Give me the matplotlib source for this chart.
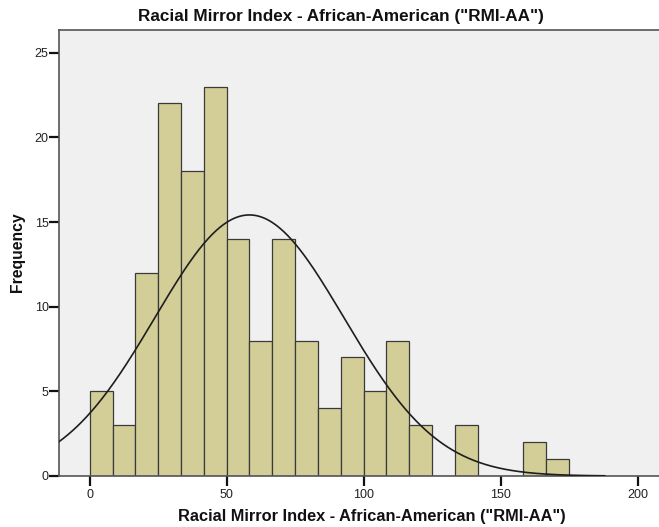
import numpy as np
import matplotlib
matplotlib.use("Agg")
import matplotlib.pyplot as plt

plt.rcParams['font.family'] = ['Liberation Sans', 'DejaVu Sans']

# Histogram of RMI-AA scores: bin edges (width 25/3) and counts per bin
bin_width = 25 / 3
n_bins = 21
bin_edges = [i * bin_width for i in range(n_bins + 1)]
counts = [5, 3, 12, 22, 18, 23, 14, 8, 14, 8, 4, 7, 5, 8, 3, 0, 3, 0, 0, 2, 1]

# Summary statistics used for the fitted normal curve
mean_val = 58.3
sd_val = 34.5
n_obs = sum(counts)

x_ticks = [0, 50, 100, 150, 200]
y_ticks = [0, 5, 10, 15, 20, 25]

title = 'Racial Mirror Index - African-American ("RMI-AA")'
x_label = 'Racial Mirror Index - African-American ("RMI-AA")'
y_label = 'Frequency'

fig = plt.figure(figsize=(6.59, 5.27), dpi=100)
ax = fig.add_axes([59 / 659, 51 / 527, 1.0 - 59 / 659 + 0.002, 446 / 527])
ax.set_facecolor('#F0F0F0')

lefts = bin_edges[:-1]
ax.bar(lefts, counts, width=bin_width, align='edge', color='#D3CE98',
       edgecolor='#3A3A3A', linewidth=0.9, zorder=2)

xs = np.linspace(-11.2, 188, 600)
ys = n_obs * bin_width / (sd_val * np.sqrt(2 * np.pi)) * np.exp(-0.5 * ((xs - mean_val) / sd_val) ** 2)
ax.plot(xs, ys, color='#1E1E1E', linewidth=1.2, zorder=3)

ax.set_xlim(-11.2, 208.3)
ax.set_ylim(0, 26.34)
ax.set_xticks(x_ticks)
ax.set_yticks(y_ticks)
ax.tick_params(axis='both', direction='out', length=7, width=1.6, color='#111111',
               labelsize=9, labelcolor='#222222', pad=0.5)
ax.tick_params(axis='x', length=7, pad=2)

for side in ['left', 'bottom', 'top']:
    ax.spines[side].set_color('#555555')
    ax.spines[side].set_linewidth(1.2)
ax.spines['right'].set_visible(False)

fig.text(341 / 659, 1 - 17 / 527, title, ha='center', va='center',
         fontsize=12.3, fontweight='bold', color='#111111')
fig.text(372 / 659, 1 - 516 / 527, x_label, ha='center', va='center',
         fontsize=11.8, fontweight='bold', color='#111111')
fig.text(18 / 659, 1 - 252 / 527, y_label, ha='center', va='center',
         rotation=90, fontsize=11.3, fontweight='bold', color='#111111')

fig.savefig('out.png', dpi=100)
